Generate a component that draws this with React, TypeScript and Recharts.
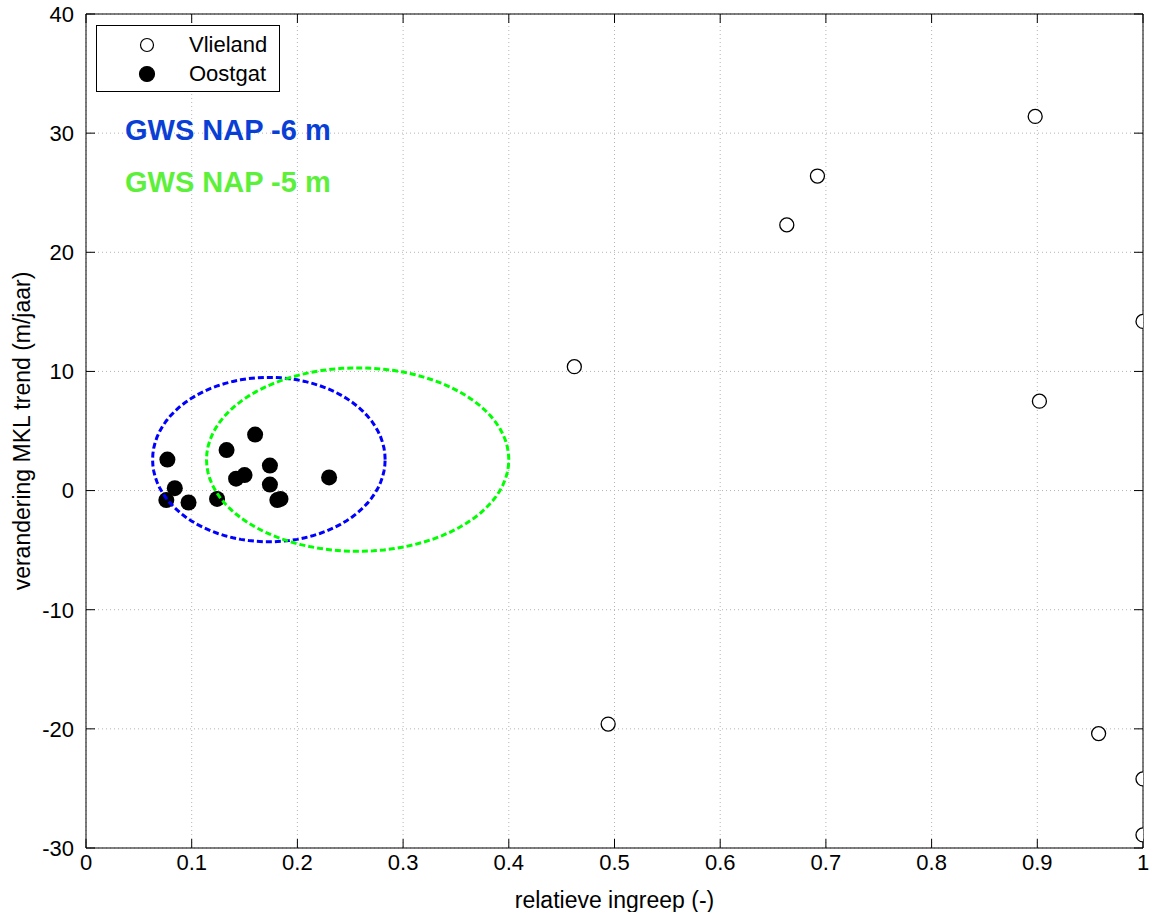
import React from 'react'
import {
  CartesianGrid,
  Legend,
  Scatter,
  ScatterChart,
  XAxis,
  YAxis,
} from 'recharts'

const FONT = '"Liberation Sans", Arial, sans-serif'

const xTicks = [0, 0.1, 0.2, 0.3, 0.4, 0.5, 0.6, 0.7, 0.8, 0.9, 1]
const yTicks = [-30, -20, -10, 0, 10, 20, 30, 40]

// relatieve ingreep vs. verandering MKL trend
const vlieland = [
  { x: 0.462, y: 10.4 },
  { x: 0.494, y: -19.6 },
  { x: 0.663, y: 22.3 },
  { x: 0.692, y: 26.4 },
  { x: 0.898, y: 31.4 },
  { x: 0.902, y: 7.5 },
  { x: 1.0, y: 14.2 },
  { x: 0.958, y: -20.4 },
  { x: 1.0, y: -24.2 },
  { x: 1.0, y: -28.9 },
]

const oostgat = [
  { x: 0.077, y: 2.6 },
  { x: 0.084, y: 0.2 },
  { x: 0.076, y: -0.8 },
  { x: 0.097, y: -1.0 },
  { x: 0.124, y: -0.7 },
  { x: 0.133, y: 3.4 },
  { x: 0.160, y: 4.7 },
  { x: 0.142, y: 1.0 },
  { x: 0.150, y: 1.3 },
  { x: 0.174, y: 2.1 },
  { x: 0.174, y: 0.5 },
  { x: 0.181, y: -0.8 },
  { x: 0.184, y: -0.7 },
  { x: 0.230, y: 1.1 },
]

// ellipses: centre and half-axes
const gwsMin6 = { cx: 0.173, cy: 2.6, rx: 0.110, ry: 6.9 }
const gwsMin5 = { cx: 0.257, cy: 2.6, rx: 0.143, ry: 7.7 }

const outline = (e: { cx: number; cy: number; rx: number; ry: number }) => {
  const pts = []
  for (let i = 0; i <= 90; i++) {
    const t = (i / 90) * 2 * Math.PI
    pts.push({ x: e.cx + e.rx * Math.cos(t), y: e.cy + e.ry * Math.sin(t) })
  }
  return pts
}

const FilledDot = (p: any) => <circle cx={p.cx} cy={p.cy} r={8} fill="#000" />
const OpenDot = (p: any) => (
  <circle cx={p.cx} cy={p.cy} r={7} fill="#fff" stroke="#000" strokeWidth={1.3} />
)
const NoDot = () => <g />
const NoTick = () => <g />

const LegendBox = () => (
  <div
    style={{
      width: 182,
      height: 65,
      border: '1px solid #000',
      background: '#fff',
      position: 'relative',
      fontFamily: FONT,
      fontSize: 22,
      color: '#000',
    }}
  >
    {[
      { name: 'Vlieland', filled: false, top: 19 },
      { name: 'Oostgat', filled: true, top: 48 },
    ].map((row) => (
      <div key={row.name}>
        <svg
          width={18}
          height={18}
          style={{ position: 'absolute', left: 41, top: row.top - 9 }}
        >
          <circle
            cx={9}
            cy={9}
            r={row.filled ? 7.5 : 6.5}
            fill={row.filled ? '#000' : '#fff'}
            stroke="#000"
            strokeWidth={1.2}
          />
        </svg>
        <div
          style={{
            position: 'absolute',
            left: 92,
            top: row.top - 13,
            lineHeight: '26px',
          }}
        >
          {row.name}
        </div>
      </div>
    ))}
  </div>
)

const YLabel = (props: any) => {
  const { x, y, height } = props.viewBox
  const cx = x + 22
  const cy = y + height / 2
  return (
    <text
      x={cx}
      y={cy}
      transform={`rotate(-90, ${cx}, ${cy})`}
      textAnchor="middle"
      dominantBaseline="central"
      fontSize={23}
      fontFamily={FONT}
      fill="#000"
    >
      verandering MKL trend (m/jaar)
    </text>
  )
}

const tickStyle = { fill: '#000', fontSize: 22, fontFamily: FONT }

export default function App() {
  return (
    <div
      style={{
        position: 'absolute',
        left: 0,
        top: 0,
        width: 1150,
        height: 912,
        background: '#fff',
      }}
    >
      <ScatterChart
        width={1150}
        height={912}
        margin={{ top: 14, right: 7, bottom: 0, left: 0 }}
      >
        <CartesianGrid stroke="#b4b4b4" strokeDasharray="1 3" />
        {/* negative tickSize points the tick marks into the plot */}
        <XAxis
          type="number"
          dataKey="x"
          domain={[0, 1]}
          ticks={xTicks}
          allowDataOverflow
          height={64}
          tickSize={-9}
          tickMargin={15}
          tickLine={{ stroke: '#000' }}
          axisLine={{ stroke: '#000' }}
          tick={tickStyle}
          label={{
            value: 'relatieve ingreep (-)',
            position: 'insideBottom',
            offset: 4,
            fontSize: 23,
            fontFamily: FONT,
            fill: '#000',
          }}
        />
        <XAxis
          xAxisId="top"
          orientation="top"
          type="number"
          dataKey="x"
          domain={[0, 1]}
          ticks={xTicks}
          allowDataOverflow
          mirror
          tick={NoTick}
          tickSize={9}
          tickLine={{ stroke: '#000' }}
          axisLine={{ stroke: '#000' }}
        />
        <YAxis
          type="number"
          dataKey="y"
          domain={[-30, 40]}
          ticks={yTicks}
          allowDataOverflow
          width={86}
          tickSize={-9}
          tickMargin={21}
          tickLine={{ stroke: '#000' }}
          axisLine={{ stroke: '#000' }}
          tick={tickStyle}
          label={{ content: YLabel }}
        />
        <YAxis
          yAxisId="right"
          orientation="right"
          type="number"
          dataKey="y"
          domain={[-30, 40]}
          ticks={yTicks}
          allowDataOverflow
          mirror
          tick={NoTick}
          tickSize={9}
          tickLine={{ stroke: '#000' }}
          axisLine={{ stroke: '#000' }}
        />
        <Scatter
          name="Vlieland"
          data={vlieland}
          shape={OpenDot}
          isAnimationActive={false}
        />
        <Scatter
          name="Oostgat"
          data={oostgat}
          shape={FilledDot}
          isAnimationActive={false}
        />
        <Scatter
          name="GWS NAP -6 m"
          data={outline(gwsMin6)}
          shape={NoDot}
          line={{ stroke: '#0000ff', strokeWidth: 3, strokeDasharray: '6 3' }}
          lineType="joint"
          legendType="none"
          isAnimationActive={false}
        />
        <Scatter
          name="GWS NAP -5 m"
          data={outline(gwsMin5)}
          shape={NoDot}
          line={{ stroke: '#00ff00', strokeWidth: 3, strokeDasharray: '6 3' }}
          lineType="joint"
          legendType="none"
          isAnimationActive={false}
        />
        <Legend
          layout="vertical"
          align="center"
          verticalAlign="middle"
          content={LegendBox}
          wrapperStyle={{ left: 96, top: 25, width: 184, height: 67 }}
        />
      </ScatterChart>
      <div
        style={{
          position: 'absolute',
          left: 125,
          top: 116,
          fontFamily: FONT,
          fontWeight: 'bold',
          fontSize: 29,
          lineHeight: '29px',
          color: '#0a3fd6',
          whiteSpace: 'nowrap',
        }}
      >
        GWS NAP -6 m
      </div>
      <div
        style={{
          position: 'absolute',
          left: 125,
          top: 168,
          fontFamily: FONT,
          fontWeight: 'bold',
          fontSize: 29,
          lineHeight: '29px',
          color: '#5cf03a',
          whiteSpace: 'nowrap',
        }}
      >
        GWS NAP -5 m
      </div>
    </div>
  )
}
